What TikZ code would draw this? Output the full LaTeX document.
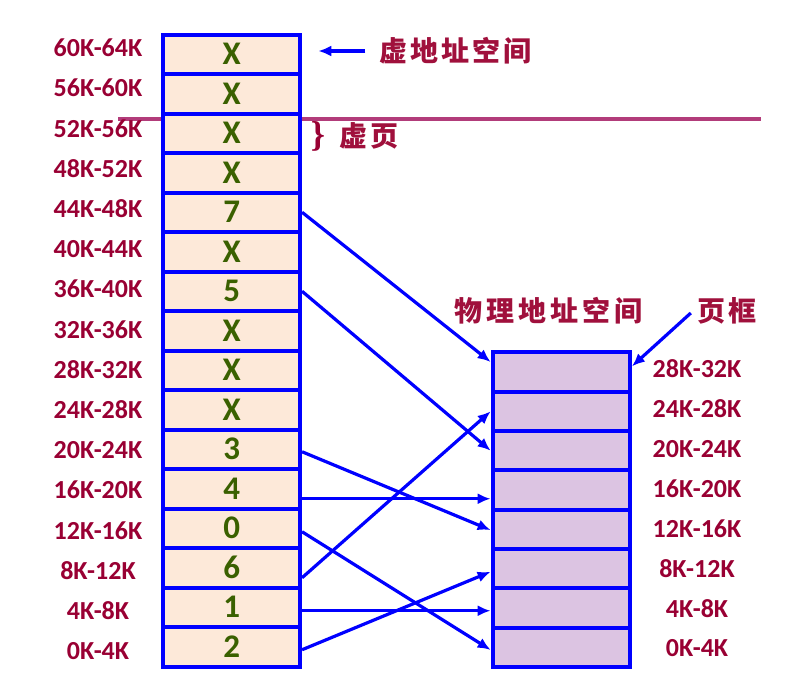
\documentclass[tikz,border=0pt]{standalone}
\usepackage{fontspec}
\setmainfont{Carlito}[BoldFont={Carlito Bold}]
\newfontfamily\cjk{Noto Sans CJK SC}
\newfontfamily\bracefont{Liberation Serif}
\usetikzlibrary{arrows.meta,calc}
\definecolor{lblred}{RGB}{153,0,51}
\definecolor{cnred}{RGB}{160,16,60}
\definecolor{xgreen}{RGB}{58,96,0}
\definecolor{peach}{RGB}{253,233,217}
\definecolor{lav}{RGB}{220,196,226}
\definecolor{mline}{RGB}{178,60,122}
\definecolor{bblue}{RGB}{0,0,255}
\begin{document}
\begin{tikzpicture}[x=1pt,y=-1pt,
  vbox/.style={draw=bblue,line width=4pt,fill=peach,minimum width=136.7pt,minimum height=39.5pt,inner sep=0pt,font=\fontsize{33}{33}\bfseries\selectfont,text=xgreen},
  pbox/.style={draw=bblue,line width=4pt,fill=lav,minimum width=137.3pt,minimum height=39.35pt,inner sep=0pt},
  addr/.style={font=\fontsize{26}{26}\bfseries\selectfont,text=lblred,inner sep=0pt},
  cn/.style={font=\fontsize{28}{28}\cjk\bfseries\selectfont,text=cnred,inner sep=0pt},
  map/.style={draw=bblue,line width=3.2pt,-{Latex[length=13pt,width=11pt]}}]
\useasboundingbox (0,0) rectangle (790,680);
% horizontal virtual page marker line
\coordinate (ml) at (118,119);
\coordinate (mr) at (761,119);
\draw[mline,line width=4.5pt] (ml) -- (mr);
% virtual address space
\foreach \t [count=\k from 0] in {X,X,X,X,7,X,5,X,X,X,3,4,0,6,1,2}
  \node[vbox] (r\k) at (231.7,{54.25+39.5*\k}) {\t};
\foreach \t [count=\k from 0] in {60K-64K,56K-60K,52K-56K,48K-52K,44K-48K,40K-44K,36K-40K,32K-36K,28K-32K,24K-28K,20K-24K,16K-20K,12K-16K,8K-12K,4K-8K,0K-4K}
  \node[addr] (la\k) at (98,{48+40.2*\k}) {\t};
% physical address space
\foreach \k in {0,...,7}
  \node[pbox] (q\k) at (561.3,{372+39.35*\k}) {};
\foreach \t [count=\k from 0] in {28K-32K,24K-28K,20K-24K,16K-20K,12K-16K,8K-12K,4K-8K,0K-4K}
  \node[addr] (lb\k) at (697,{369+39.9*\k}) {\t};
% texts
\node[cn] (vtxt) at (455.5,51) {虚\hspace{3pt}地\hspace{3pt}址\hspace{3pt}空\hspace{3pt}间};
\node[cn] (ptxt) at (548.5,311) {物\hspace{4pt}理\hspace{4pt}地\hspace{4pt}址\hspace{4pt}空\hspace{4pt}间};
\node[cn] (ktxt) at (727,311) {页\hspace{4pt}框};
\node[cn] (vp) at (369,136) {虚\hspace{4pt}页};
\node[font=\fontsize{36}{36}\bracefont\bfseries\selectfont,text=lblred,inner sep=0pt] (br) at (318,136) {\}};
% pointer arrows
\draw[map] ([xshift=-14pt]vtxt.west) -- ++(-47,0);
\draw[map] ([xshift=-6pt,yshift=-2pt]ktxt.west) -- ([yshift=-16pt]q0.north east);
% page mappings
\draw[map] (r4.east) -- ([yshift=10pt]q0.west);
\draw[map] (r6.east) -- (q2.west);
\draw[map] ([yshift=-2.5pt]r10.east) -- ([yshift=-0.7pt]q4.west);
\draw[map] ([yshift=-10pt]r11.east) -- ([yshift=-10pt]r11.east -| q3.west);
\draw[map] ([yshift=-3.5pt]r12.east) -- ([yshift=-2.5pt]q7.west);
\draw[map] ([yshift=-10pt]r13.east) -- (q1.west);
\draw[map] ([yshift=-3.5pt]r14.east) -- ([yshift=-3.5pt]r14.east -| q6.west);
\draw[map] ([yshift=-3pt]r15.east) -- ([yshift=-3pt]q5.west);
\end{tikzpicture}
\end{document}
